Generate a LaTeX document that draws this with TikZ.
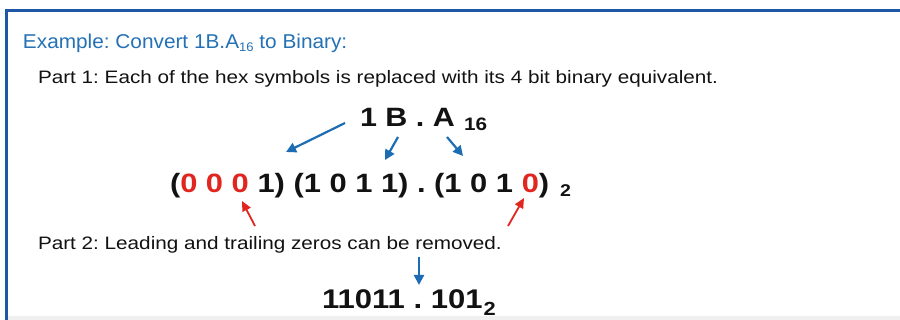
\documentclass[tikz,border=0pt]{standalone}
\usepackage{fontspec}
\setmainfont{Liberation Sans}
\usetikzlibrary{arrows.meta}
\definecolor{titleblue}{HTML}{2472B5}
\definecolor{arrowblue}{HTML}{1D6DB4}
\definecolor{frameblue}{HTML}{1E57A6}
\definecolor{zred}{HTML}{E0261E}
\definecolor{ink}{HTML}{121212}
\newcommand{\hs}[1]{\scalebox{1.15}[1]{#1}}
\begin{document}
\frenchspacing
\begin{tikzpicture}[x=1pt,y=-1pt,
  txt/.style={anchor=base west,inner sep=0pt,outer sep=0pt,text=ink},
  body/.style={txt,font=\fontsize{18}{20}\selectfont},
  big/.style={txt,font=\bfseries\fontsize{26.5}{30}\selectfont},
  blarrow/.style={draw=arrowblue,line width=2.2pt,-{Triangle[length=10pt,width=10pt]}},
  rdarrow/.style={draw=zred,line width=1.8pt,-{Triangle[length=10pt,width=9pt]}}]
\useasboundingbox (0,0) rectangle (900,320);
\fill[white] (0,0) rectangle (900,320);
\fill[black!6] (8,316) rectangle (900,320);
\draw[frameblue,line width=3pt] (6.5,320) -- (6.5,10.5) -- (900,10.5);

\node[txt,text=titleblue,font=\fontsize{20}{22}\selectfont] (title) at (23,49)
  {\scalebox{1.04}[1]{Example: Convert 1B.A\raisebox{-3pt}{\fontsize{12.5}{13}\selectfont 16} to Binary:}};
\node[body] (p1) at (38,84)
  {\hs{Part 1: Each of the hex symbols is replaced with its 4 bit binary equivalent.}};
\node[big] (hex) at (360,127) {\hs{1 B . A}};
\node[txt,font=\bfseries\fontsize{18}{20}\selectfont] (hexsub) at (464,131) {\hs{16}};
\node[big] (row) at (170,193)
  {\scalebox{1.165}[1]{(\textcolor{zred}{0 0 0} 1) (1 0 1 1) . (1 0 1 \textcolor{zred}{0})}};
\node[txt,font=\bfseries\fontsize{17}{18}\selectfont] (rowsub) at (560,197) {\hs{2}};
\node[body] (p2) at (38,250)
  {\hs{Part 2: Leading and trailing zeros can be removed.}};
\node[txt,font=\bfseries\fontsize{27}{30}\selectfont] (res) at (322,309) {\hs{11011 . 101}};
\node[txt,font=\bfseries\fontsize{19}{20}\selectfont,anchor=base west] (ressub)
  at ([xshift=1pt,yshift=-7pt]res.base east) {\hs{2}};

\coordinate (b1s) at (345,123); \coordinate (b1e) at (286,152);
\coordinate (b2s) at (398,137); \coordinate (b2e) at (385,160);
\coordinate (b3s) at (447,137); \coordinate (b3e) at (463,156);
\coordinate (r1s) at (255,226); \coordinate (r1e) at (242,201);
\coordinate (r2s) at (508,226); \coordinate (r2e) at (524,198);
\coordinate (b4s) at (419,257); \coordinate (b4e) at (419,285);
\draw[blarrow] (b1s) -- (b1e);
\draw[blarrow] (b2s) -- (b2e);
\draw[blarrow] (b3s) -- (b3e);
\draw[rdarrow] (r1s) -- (r1e);
\draw[rdarrow] (r2s) -- (r2e);
\draw[blarrow] (b4s) -- (b4e);
\end{tikzpicture}
\end{document}
